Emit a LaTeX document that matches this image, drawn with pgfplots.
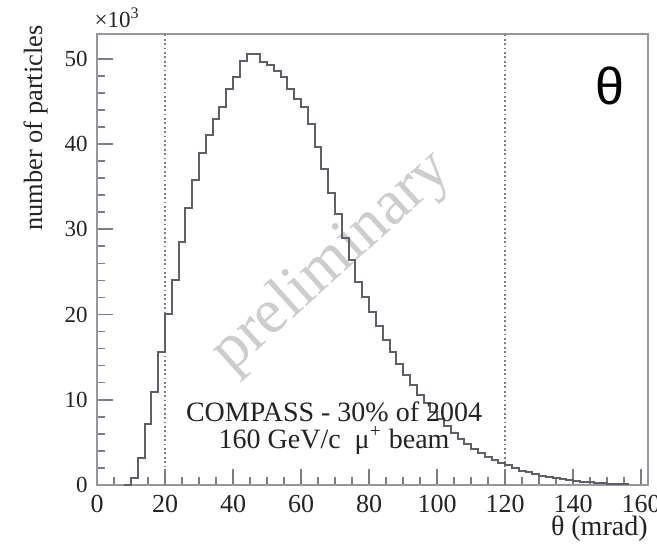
\documentclass[border=0pt]{standalone}
\usepackage{fontspec}
\setmainfont{Liberation Serif}
\newfontfamily\sansfont{Liberation Sans}
\usepackage{pgfplots}
\pgfplotsset{compat=1.18}
\usepackage{pgfplotstable}

\definecolor{axisgray}{RGB}{125,125,135}
\definecolor{framegray}{RGB}{150,150,160}
\definecolor{histgray}{RGB}{95,95,105}
\definecolor{wmgray}{RGB}{205,205,205}
\definecolor{txt}{RGB}{35,35,35}

% theta distribution, 2 mrad bins (left edge, counts in units of 10^3)
\pgfplotstableread{
x     y
8     0
10    0.8
12    3.2
14    7.2
16    10.9
18    15.6
20    20.0
22    24.0
24    28.5
26    32.5
28    35.8
30    38.9
32    41.0
34    42.9
36    44.3
38    46.4
40    47.8
42    49.7
44    50.5
46    50.5
48    49.6
50    49.3
52    48.6
54    47.8
56    46.5
58    45.3
60    44.3
62    42.3
64    39.7
66    37.1
68    34.3
70    31.8
72    29.0
74    26.4
76    23.8
78    22.0
80    20.3
82    18.6
84    17.0
86    15.6
88    14.2
90    12.9
92    11.7
94    10.6
96    9.6
98    8.6
100   7.7
102   6.9
104   6.1
106   5.4
108   4.8
110   4.2
112   3.7
114   3.3
116   2.9
118   2.6
120   2.3
122   2.0
124   1.7
126   1.5
128   1.3
130   1.1
132   0.9
134   0.8
136   0.65
138   0.55
140   0.45
142   0.35
144   0.3
146   0.25
148   0.2
150   0.15
152   0.1
154   0.08
156   0
}\thetahist

\begin{document}
\begin{tikzpicture}
\begin{axis}[
  at={(0,0)}, anchor=south west,
  scale only axis, width=275.5bp, height=225.5bp,
  xmin=0, xmax=162, ymin=0, ymax=52.9,
  xtick={0,20,...,160}, ytick={0,10,...,50},
  minor x tick num=3, minor y tick num=4,
  tick align=inside, xtick pos=bottom, ytick pos=left,
  major tick length=8bp, minor tick length=4bp,
  axis line style={draw=framegray, line width=0.8bp},
  every tick/.style={draw=axisgray, line width=0.8bp},
  /pgf/number format/assume math mode=true,
  tick label style={text=txt},
  yticklabel style={anchor=east, inner sep=0pt, xshift=-4.5bp,
    font=\fontsize{11.5bp}{12bp}\selectfont},
  xticklabel style={anchor=north, inner sep=0pt, yshift=-5bp,
    font=\fontsize{13bp}{14bp}\selectfont},
  xlabel={θ (mrad)},
  xlabel style={at={(axis description cs:1,-0.113)}, anchor=base east,
    inner sep=0pt, font=\fontsize{14bp}{16bp}\selectfont, text=txt},
  ylabel={number of particles},
  ylabel style={at={(axis description cs:-0.0998,1.02)}, rotate=0,
    anchor=base east, inner sep=0pt,
    font=\fontsize{13.2bp}{15bp}\selectfont, text=txt},
  clip=false,
]
% watermark
\node[rotate=42, text=wmgray, font=\fontsize{32bp}{34bp}\selectfont]
  at (axis cs:69.1,26.1) {preliminary};

% cut lines
\addplot[draw=axisgray, line width=0.7bp, dash pattern=on 0.9bp off 1.3bp]
  coordinates {(20,0) (20,52.9)};
\addplot[draw=axisgray, line width=0.7bp, dash pattern=on 0.9bp off 1.3bp]
  coordinates {(120,0) (120,52.9)};

% histogram
\addplot[const plot, draw=histgray, line width=1bp] table[x=x, y=y] {\thetahist};

% annotations
\node[anchor=base, text=txt, font=\fontsize{14bp}{16bp}\selectfont]
  at (axis cs:69.7,7.42) {COMPASS - 30\% of 2004};
\node[anchor=base, text=txt, font=\fontsize{14bp}{16bp}\selectfont]
  at (axis cs:69.7,4.30) {160 GeV/c\enspace μ\textsuperscript{+} beam};
\node[text=black, font=\sansfont\fontsize{26bp}{28bp}\selectfont]
  at (axis cs:150.9,46.8) {θ};
\node[anchor=base west, inner sep=0pt, text=txt,
  font=\fontsize{11.5bp}{12bp}\selectfont]
  at (axis description cs:-0.005,1.0155) {×10\textsuperscript{3}};
\end{axis}
\pgfresetboundingbox
\path (-48.5bp,-32bp) rectangle (280bp,242.5bp);
\end{tikzpicture}
\end{document}
